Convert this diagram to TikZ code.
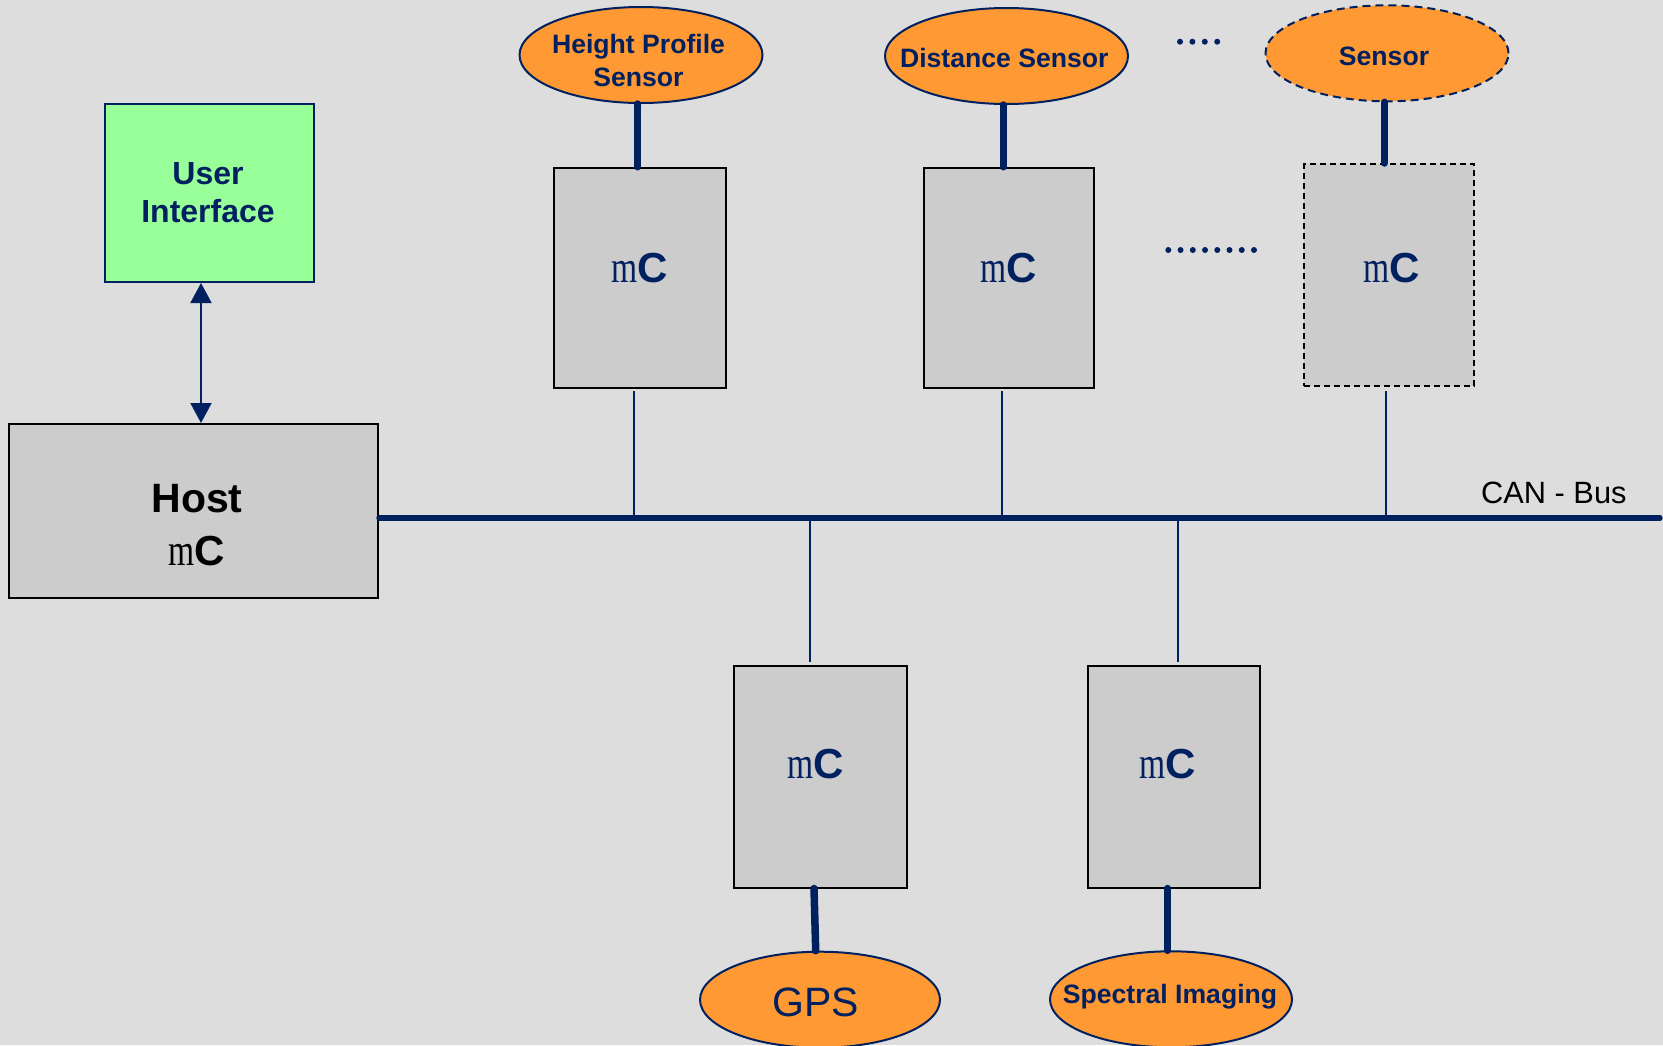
\documentclass[tikz,border=0pt]{standalone}
\usepackage{fontspec}
\usepackage{graphicx}
\setmainfont{Liberation Sans}
\newfontfamily\serifm{Liberation Serif}
\usetikzlibrary{shapes.geometric,arrows.meta}

\definecolor{canvas}{HTML}{DDDDDD}
\definecolor{boxgray}{HTML}{CCCCCC}
\definecolor{navy}{HTML}{002060}
\definecolor{sensororange}{HTML}{FF9933}
\definecolor{uigreen}{HTML}{99FF99}

% microcontroller label: serif m followed by a bold sans C
\newcommand{\mcu}{\scalebox{0.8}[1.07]{\serifm m}\textbf{C}}

\tikzset{
  mcbox/.style={draw=black, line width=1pt, fill=boxgray, minimum width=86pt,
    minimum height=110pt, inner sep=0pt},
  sensorell/.style={ellipse, draw=navy, line width=1pt, fill=sensororange,
    minimum width=121.5pt, minimum height=48pt, inner sep=0pt},
  sensortxt/.style={inner sep=0pt, text=navy, align=center,
    font=\bfseries\fontsize{13.3}{16.5}\selectfont},
  mclbl/.style={inner sep=0pt, anchor=base, text=navy,
    font=\fontsize{21}{24}\selectfont},
  stemline/.style={navy, line width=3.75pt, line cap=round},
  tapline/.style={navy, line width=1pt},
  busline/.style={navy, line width=2.7pt, line cap=round},
  biarrow/.style={navy, line width=1pt,
    {Triangle[width=10.5pt,length=10pt]}-{Triangle[width=10.5pt,length=10pt]}},
  dotmark/.style={fill=navy},
}

\begin{document}
\begin{tikzpicture}[x=0.5pt,y=-0.5pt]
  % canvas
  \fill[canvas] (0,0) rectangle (1663,1045);
  \useasboundingbox (0,0) rectangle (1663,1045);

  % user interface and host
  \node[draw=navy, line width=1pt, fill=uigreen, minimum width=104.5pt,
        minimum height=89pt, inner sep=0pt] (ui) at (209.5,193) {};
  \node[inner sep=0pt, text=navy, align=center,
        font=\bfseries\fontsize{16}{19}\selectfont] (uitxt) at (208,193) {User\\Interface};
  \node[mcbox, minimum width=184.5pt, minimum height=87pt] (host) at (193.5,511) {};
  \node[inner sep=0pt, anchor=base, font=\bfseries\fontsize{20.5}{24}\selectfont]
        (hosttxt) at (197,512) {Host};
  \node[inner sep=0pt, anchor=base, font=\fontsize{21}{24}\selectfont]
        (hostmc) at (197,565.7) {\mcu};

  \coordinate (ax) at (201,0);
  \draw[biarrow] (ui.south -| ax) -- (host.north -| ax);

  % upper microcontrollers
  \node[mcbox] (mc1) at (640,277.75) {};
  \node[mcbox, minimum width=85pt] (mc2) at (1008.75,277.75) {};
  \node[mcbox, minimum width=85pt, minimum height=110.75pt, dashed,
        dash pattern=on 3pt off 2pt] (mc3) at (1389,274.75) {};
  \node[mclbl] (mc1txt) at (640,282) {\mcu};
  \node[mclbl] (mc2txt) at (1008.8,282) {\mcu};
  \node[mclbl] (mc3txt) at (1391.5,282) {\mcu};

  % lower microcontrollers
  \node[mcbox, minimum width=86.5pt, minimum height=110.75pt] (mc4) at (820,776.75) {};
  \node[mcbox, minimum width=86pt, minimum height=110.75pt] (mc5) at (1174,776.75) {};
  \node[mclbl] (mc4txt) at (815.6,778) {\mcu};
  \node[mclbl] (mc5txt) at (1167.7,778) {\mcu};

  % sensors
  \node[sensorell] (hps) at (641,55) {};
  \node[sensortxt, anchor=base] (hpstxt) at (638.5,53.3) {Height Profile};
  \node[sensortxt, anchor=base] (hpstxt2) at (638.5,86) {Sensor};
  \node[sensorell] (dist) at (1006.5,56) {};
  \node[sensortxt, anchor=base] (disttxt) at (1004.3,67) {Distance Sensor};
  \node[sensorell, dashed, dash pattern=on 4pt off 2.5pt] (gen) at (1387,53.3) {};
  \node[sensortxt, anchor=base] (gentxt) at (1384,65) {Sensor};
  \node[sensorell, minimum width=120pt] (gps) at (820,999.7) {};
  \node[inner sep=0pt, anchor=base, text=navy, font=\fontsize{20.5}{24}\selectfont]
        (gpstxt) at (815.5,1016.7) {GPS};
  \node[sensorell, minimum width=121pt] (spec) at (1171,999.3) {};
  \node[sensortxt, anchor=base] (spectxt) at (1170,1003) {Spectral Imaging};

  % sensor to microcontroller links
  \coordinate (s1) at (637.7,0);
  \coordinate (s2) at (1003.3,0);
  \coordinate (s3) at (1384.3,0);
  \draw[stemline] (hps.south -| s1) -- (mc1.north -| s1);
  \draw[stemline] (dist.south -| s2) -- (mc2.north -| s2);
  \draw[stemline] (gen.south -| s3) -- (mc3.north -| s3);
  \coordinate (g1) at (814,0);
  \coordinate (g2) at (815.7,0);
  \coordinate (s5) at (1167.7,0);
  \draw[stemline] (mc4.south -| g1) -- (gps.north -| g2);
  \draw[stemline] (mc5.south -| s5) -- (spec.north -| s5);

  % CAN bus
  \coordinate (busR) at (1660,518);
  \draw[busline] (host.east |- busR) -- (busR);
  \node[inner sep=0pt, anchor=base west, font=\fontsize{15.4}{18}\selectfont]
        (bustxt) at (1480.7,503) {CAN - Bus};

  % bus taps
  \coordinate (t1) at (634,518);
  \coordinate (t2) at (1002,518);
  \coordinate (t3) at (1386,518);
  \coordinate (t4) at (810,518);
  \coordinate (t5) at (1178,518);
  \draw[tapline] ([yshift=-1pt]mc1.south -| t1) -- (t1);
  \draw[tapline] ([yshift=-1pt]mc2.south -| t2) -- (t2);
  \draw[tapline] ([yshift=-2pt]mc3.south -| t3) -- (t3);
  \draw[tapline] ([yshift=1.5pt]mc4.north -| t4) -- (t4);
  \draw[tapline] ([yshift=1.5pt]mc5.north -| t5) -- (t5);

  % ellipsis dots
  \foreach \i in {0,...,3}
    \fill[dotmark] (1180+12.4*\i,41.7) circle[radius=3];
  \foreach \i in {0,...,7}
    \fill[dotmark] (1168.3+12.24*\i,250) circle[radius=3];
\end{tikzpicture}
\end{document}
